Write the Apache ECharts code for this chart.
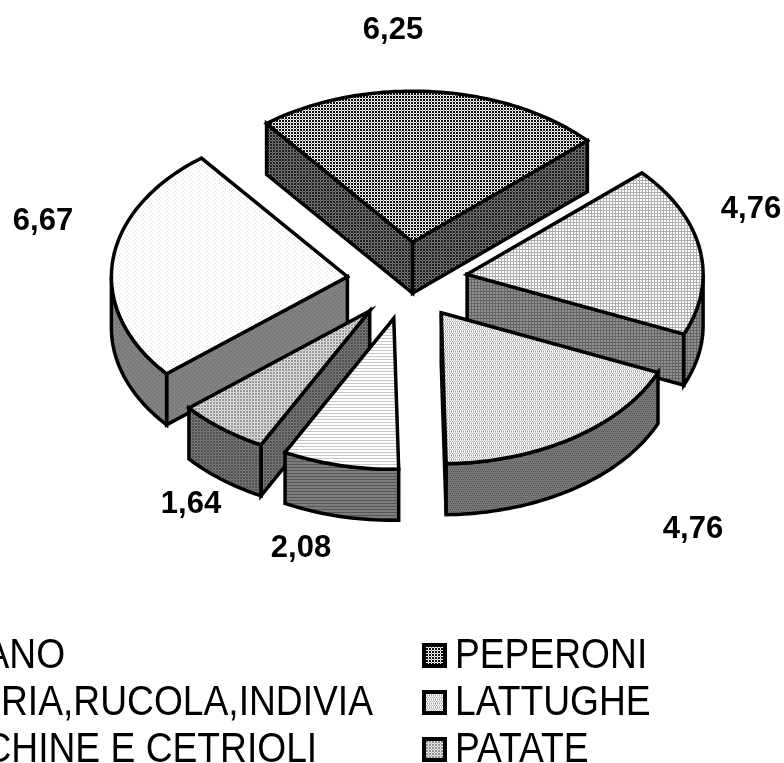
<!DOCTYPE html>
<html>
<head>
<meta charset="utf-8">
<style>
  html, body { margin: 0; padding: 0; background: #fff; }
  #chart { width: 784px; height: 763px; }
</style>
<script src="https://cdn.jsdelivr.net/npm/echarts@6/dist/echarts.min.js"></script>
</head>
<body>
<div id="chart"></div>
<script>
// data, clockwise from the start angle
const categories = ['SEDANO', 'PEPERONI', 'CICORIA,RUCOLA,INDIVIA', 'LATTUGHE', 'ZUCCHINE E CETRIOLI', 'PATATE'];
const values = [6.67, 6.25, 4.76, 4.76, 2.08, 1.64];

// pie projection
const CX = 407.5, CY = 280.7, RX = 236, RY = 151, DEPTH = 51, EXPLODE = 0.256;
const START_DEG = 230;
const total = values.reduce((a, b) => a + b, 0);

// back to front
const paintOrder = [1, 0, 2, 5, 4, 3];
const labelPos = [[43, 221], [393, 30], [751, 209], [693, 529], [301, 548], [191, 504]];

// small grey tiles, values are grey levels
function tile(rows) {
  const c = document.createElement('canvas');
  c.height = rows.length;
  c.width = rows[0].length;
  const ctx = c.getContext('2d');
  rows.forEach((row, y) => row.forEach((g, x) => {
    ctx.fillStyle = `rgb(${g},${g},${g})`;
    ctx.fillRect(x, y, 1, 1);
  }));
  return { image: c, repeat: 'repeat' };
}

const topFill = [
  tile([[255, 255, 255, 255], [255, 222, 255, 255], [255, 255, 255, 255], [255, 255, 255, 222]]),
  tile([[10, 10, 255], [10, 10, 255], [255, 255, 140]]),
  tile([[175, 175, 175], [175, 255, 255], [175, 255, 255]]),
  tile([[255, 195, 255, 195], [165, 255, 165, 255], [255, 195, 255, 195], [255, 165, 255, 165]]),
  tile([[255, 255], [255, 255], [200, 200]]),
  tile([[150, 150, 225], [150, 150, 225], [225, 225, 190]])
];
const sideFill = [
  tile([[130, 130, 130, 130], [130, 105, 130, 130], [130, 130, 130, 130], [130, 130, 130, 105]]),
  tile([[30, 30, 120], [30, 30, 120], [120, 120, 70]]),
  tile([[100, 100, 100], [100, 145, 145], [100, 145, 145]]),
  tile([[120, 120, 120, 120], [85, 120, 85, 120], [120, 120, 120, 120], [120, 85, 120, 85]]),
  tile([[125, 125], [125, 125], [85, 85]]),
  tile([[80, 80, 120], [80, 80, 120], [120, 120, 100]])
];

// start and end angle of each slice, radians clockwise from 12 o'clock
const spans = [];
let cursor = START_DEG * Math.PI / 180;
values.forEach(v => {
  const next = cursor + v / total * Math.PI * 2;
  spans.push([cursor, next]);
  cursor = next;
});

const arcPoints = (ax, ay, from, to, dy) => {
  const pts = [];
  const n = Math.max(2, Math.ceil((to - from) * 40));
  for (let i = 0; i <= n; i++) {
    const t = from + (to - from) * i / n;
    pts.push([ax + RX * Math.sin(t), ay - RY * Math.cos(t) + dy]);
  }
  return pts;
};

const face = (points, fill) => ({
  type: 'polygon',
  shape: { points },
  style: { fill, stroke: '#000', lineWidth: 3.5, lineJoin: 'miter' }
});

const renderSlice = idx => () => {
  const [a0, a1] = spans[idx];
  const mid = (a0 + a1) / 2;
  const ax = CX + EXPLODE * RX * Math.sin(mid);
  const ay = CY - EXPLODE * RY * Math.cos(mid);
  const rim = (t, dy) => [ax + RX * Math.sin(t), ay - RY * Math.cos(t) + dy];
  const children = [];

  // radial walls that face the viewer
  if (Math.sin(a0) < 0) {
    children.push(face([[ax, ay], rim(a0, 0), rim(a0, DEPTH), [ax, ay + DEPTH]], sideFill[idx]));
  }
  if (Math.sin(a1) > 0) {
    children.push(face([[ax, ay], rim(a1, 0), rim(a1, DEPTH), [ax, ay + DEPTH]], sideFill[idx]));
  }

  // outer rim, only the front half shows
  [Math.PI / 2, Math.PI * 2.5].forEach(lo => {
    const from = Math.max(a0, lo);
    const to = Math.min(a1, lo + Math.PI);
    if (to > from) {
      const top = arcPoints(ax, ay, from, to, 0);
      const bottom = arcPoints(ax, ay, from, to, DEPTH).reverse();
      children.push(face(top.concat(bottom), sideFill[idx]));
    }
  });

  children.push(face([[ax, ay]].concat(arcPoints(ax, ay, a0, a1, 0)), topFill[idx]));

  children.push({
    type: 'text',
    style: {
      x: labelPos[idx][0],
      y: labelPos[idx][1],
      text: values[idx].toFixed(2).replace('.', ','),
      fill: '#000',
      font: 'bold 31px "Liberation Sans"',
      align: 'center',
      verticalAlign: 'middle'
    }
  });
  return { type: 'group', children };
};

// legend drawn by hand: the original type is condensed and the left column runs off the page
const LEGEND_ROW_Y = [655.5, 702.5, 749.5];
const LEGEND_TEXT_Y_SHIFT = 1;
const LEGEND_BOX_X = [-124, 424];
const LEGEND_TEXT_X = [-92, 455];
const legendGraphics = [];
categories.forEach((name, i) => {
  const col = i % 2;
  const y = LEGEND_ROW_Y[(i - col) / 2];
  legendGraphics.push({
    type: 'rect',
    shape: { x: LEGEND_BOX_X[col], y: y - 10.5, width: 21, height: 21 },
    style: { fill: topFill[i], stroke: '#000', lineWidth: 4 }
  });
  legendGraphics.push({
    type: 'text',
    x: LEGEND_TEXT_X[col],
    y: y + LEGEND_TEXT_Y_SHIFT,
    scaleX: 0.865,
    style: {
      text: name,
      fill: '#000',
      font: '43px "Liberation Sans"',
      align: 'left',
      verticalAlign: 'middle'
    }
  });
});

const chart = echarts.init(document.getElementById('chart'), null, { renderer: 'canvas' });
chart.setOption({
  animation: false,
  backgroundColor: '#fff',
  graphic: { elements: legendGraphics },
  series: paintOrder.map(i => ({
    type: 'custom',
    name: categories[i],
    coordinateSystem: 'none',
    silent: true,
    data: [[values[i]]],
    renderItem: renderSlice(i)
  }))
});
</script>
</body>
</html>
